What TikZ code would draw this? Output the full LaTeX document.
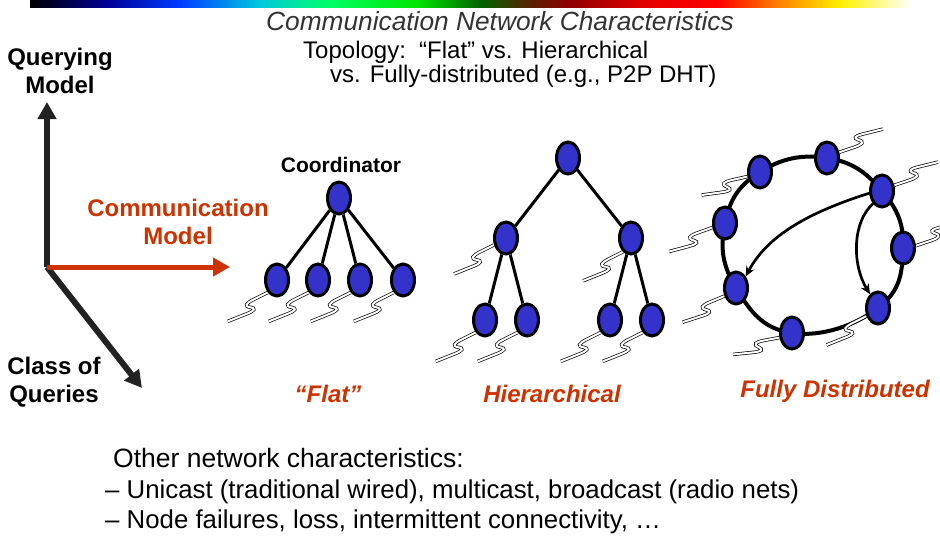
\documentclass[tikz,border=0pt]{standalone}
\usepackage{fontspec}
\setmainfont{Liberation Sans}
\usetikzlibrary{arrows.meta,shapes.geometric,backgrounds}

\definecolor{nodeblue}{RGB}{51,51,204}
\definecolor{modelred}{RGB}{204,51,0}
\definecolor{axisdark}{RGB}{34,34,34}
\definecolor{titlegray}{RGB}{51,51,51}
% colour stops of the banner strip
\definecolor{rb0}{RGB}{0,0,0}
\definecolor{rb1}{RGB}{0,0,150}
\definecolor{rb2}{RGB}{0,60,255}
\definecolor{rb3}{RGB}{0,200,220}
\definecolor{rb4}{RGB}{0,255,100}
\definecolor{rb5}{RGB}{0,230,0}
\definecolor{rb6}{RGB}{0,100,0}
\definecolor{rb7}{RGB}{80,40,0}
\definecolor{rb8}{RGB}{140,0,0}
\definecolor{rb9}{RGB}{230,0,0}
\definecolor{rb10}{RGB}{255,0,0}
\definecolor{rb11}{RGB}{255,130,0}
\definecolor{rb12}{RGB}{255,240,0}
\definecolor{rb13}{RGB}{255,255,255}
% the filled path covers the middle half (25bp to 75bp) of the shading
\pgfdeclarehorizontalshading{rainbowbar}{100bp}{color(0bp)=(rb0); color(25bp)=(rb0);
  color(29.4bp)=(rb1); color(33.5bp)=(rb2); color(38bp)=(rb3); color(42bp)=(rb4);
  color(47bp)=(rb5); color(50.5bp)=(rb6); color(53bp)=(rb7); color(55.5bp)=(rb8);
  color(60bp)=(rb9); color(64bp)=(rb10); color(67.5bp)=(rb11); color(71bp)=(rb12);
  color(75bp)=(rb13); color(100bp)=(rb13)}

\begin{document}
\begin{tikzpicture}[x=1pt,y=-1pt,
  net/.style={ellipse,draw=black,line width=3pt,fill=nodeblue,
    minimum width=23pt,minimum height=32pt,inner sep=0pt},
  link/.style={line width=3pt},
  ringline/.style={line width=4pt},
  shortcut/.style={line width=2.7pt,-{Stealth[length=10pt,width=9pt]}},
  squigline/.style={line width=0.7pt,double=white,double distance=2pt},
  squig/.pic={\draw[squigline] (0,0) -- (-14,7)
      .. controls (-22,11) and (-24,14) .. (-17,15)
      .. controls (-12,16) and (-13,18) .. (-20,21) -- (-40,29);},
  axislabel/.style={font=\fontsize{24}{28}\selectfont\bfseries,align=center,inner sep=0pt},
  topolabel/.style={font=\fontsize{24}{28}\selectfont\bfseries\itshape,text=modelred,inner sep=0pt,anchor=base},
  axis/.style={line width=6pt,draw=axisdark,-{Triangle[length=17pt,width=18pt]}},
  plain/.style={inner sep=0pt,anchor=base west},
]
\useasboundingbox (0,0) rectangle (940,544);
\clip (0,0) rectangle (940,544);

% banner strip
\shade[shading=rainbowbar] (30,0) rectangle (911,7);

% headings
\node[inner sep=0pt,anchor=base,text=titlegray,font=\fontsize{26.3}{30}\selectfont\itshape]
  (title) at (500,30) {Communication Network Characteristics};
\node[plain,font=\fontsize{24}{28}\selectfont] (topo1) at (303,58) {Topology:\ \ “Flat” vs. Hierarchical};
\node[plain,font=\fontsize{24}{28}\selectfont] (topo2) at (330,82) {vs. Fully-distributed (e.g., P2P DHT)};

% model axes
\coordinate (O) at (47,267);
\coordinate (qtip) at (47,102);
\coordinate (dtip) at (142,388);
\coordinate (ctip) at (230,267);
\draw[axis] (O) -- (qtip);
\draw[axis] (O) -- (dtip);
\draw[axis,draw=modelred,line width=5pt] (O) -- (ctip);
\node[axislabel] (qlabel) at (60,70.5) {Querying\\Model};
\node[axislabel,text=modelred] (clabel) at (178,222) {Communication\\Model};
\node[axislabel] (dlabel) at (54,382) {Class of\\Queries};

% flat topology
\node[plain,anchor=base,font=\fontsize{21}{24}\selectfont\bfseries] (coord) at (341,172) {Coordinator};
\node[net] (f0) at (339,198) {};
\node[net] (f1) at (277,280) {};
\node[net] (f2) at (318,280) {};
\node[net] (f3) at (360,280) {};
\node[net] (f4) at (403,280) {};

% hierarchical topology
\node[net] (h0) at (568,158) {};
\node[net] (h1) at (506,238) {};
\node[net] (h2) at (631,238) {};
\node[net] (h3) at (485,320) {};
\node[net] (h4) at (527,320) {};
\node[net] (h5) at (610,320) {};
\node[net] (h6) at (652,320) {};

% fully distributed ring
\node[net] (r1) at (760,172) {};
\node[net] (r2) at (827,158) {};
\node[net] (r3) at (882,191) {};
\node[net] (r4) at (903,248) {};
\node[net] (r5) at (878,308) {};
\node[net] (r6) at (792,333) {};
\node[net] (r7) at (736,288) {};
\node[net] (r8) at (725,223) {};

\begin{pgfonlayer}{background}
  \foreach \n in {f1,f2,f3,f4} \draw[link] (f0) -- (\n);
  \draw[link] (h0) -- (h1);
  \draw[link] (h0) -- (h2);
  \draw[link] (h1) -- (h3);
  \draw[link] (h1) -- (h4);
  \draw[link] (h2) -- (h5);
  \draw[link] (h2) -- (h6);
  \draw[ringline] plot[smooth cycle,tension=0.75] coordinates {(r1) (r2) (r3) (r4) (r5) (r6) (r7) (r8)};
  % radio links
  \foreach \n in {f1,f2,f3,f4,h3,h4,h5,h6} \pic at (\n.south west) {squig};
  \pic at (h1.210) {squig};
  \pic at (h2.240) {squig};
  \pic[rotate=-14] at (r1.200) {squig};
  \pic[rotate=-7] at (r8.200) {squig};
  \pic[rotate=-4] at (r7.215) {squig};
  \pic[rotate=-16] at (r6.200) {squig};
  \pic at (r5.215) {squig};
  \pic[rotate=172] at (r2.25) {squig};
  \pic[rotate=172] at (r3.25) {squig};
  \pic[rotate=172] at (r4.10) {squig};
\end{pgfonlayer}

% shortcuts across the ring
\draw[shortcut] (r3.190) .. controls (800,215) and (765,240) .. (r7.50);
\draw[shortcut] (r3.235) .. controls (852,222) and (852,265) .. (r5.120);

% topology names
\node[topolabel] (lflat) at (328,402) {“Flat”};
\node[topolabel] (lhier) at (552,402) {Hierarchical};
\node[topolabel] (lfull) at (835,397) {Fully Distributed};

% further characteristics
\node[plain,font=\fontsize{26.5}{30}\selectfont] (other) at (113,467) {Other network characteristics:};
\node[plain,font=\fontsize{25.8}{30}\selectfont] (item1) at (105,498) {– Unicast (traditional wired), multicast, broadcast (radio nets)};
\node[plain,font=\fontsize{25.8}{30}\selectfont] (item2) at (105,528) {– Node failures, loss, intermittent connectivity, …};
\end{tikzpicture}
\end{document}
